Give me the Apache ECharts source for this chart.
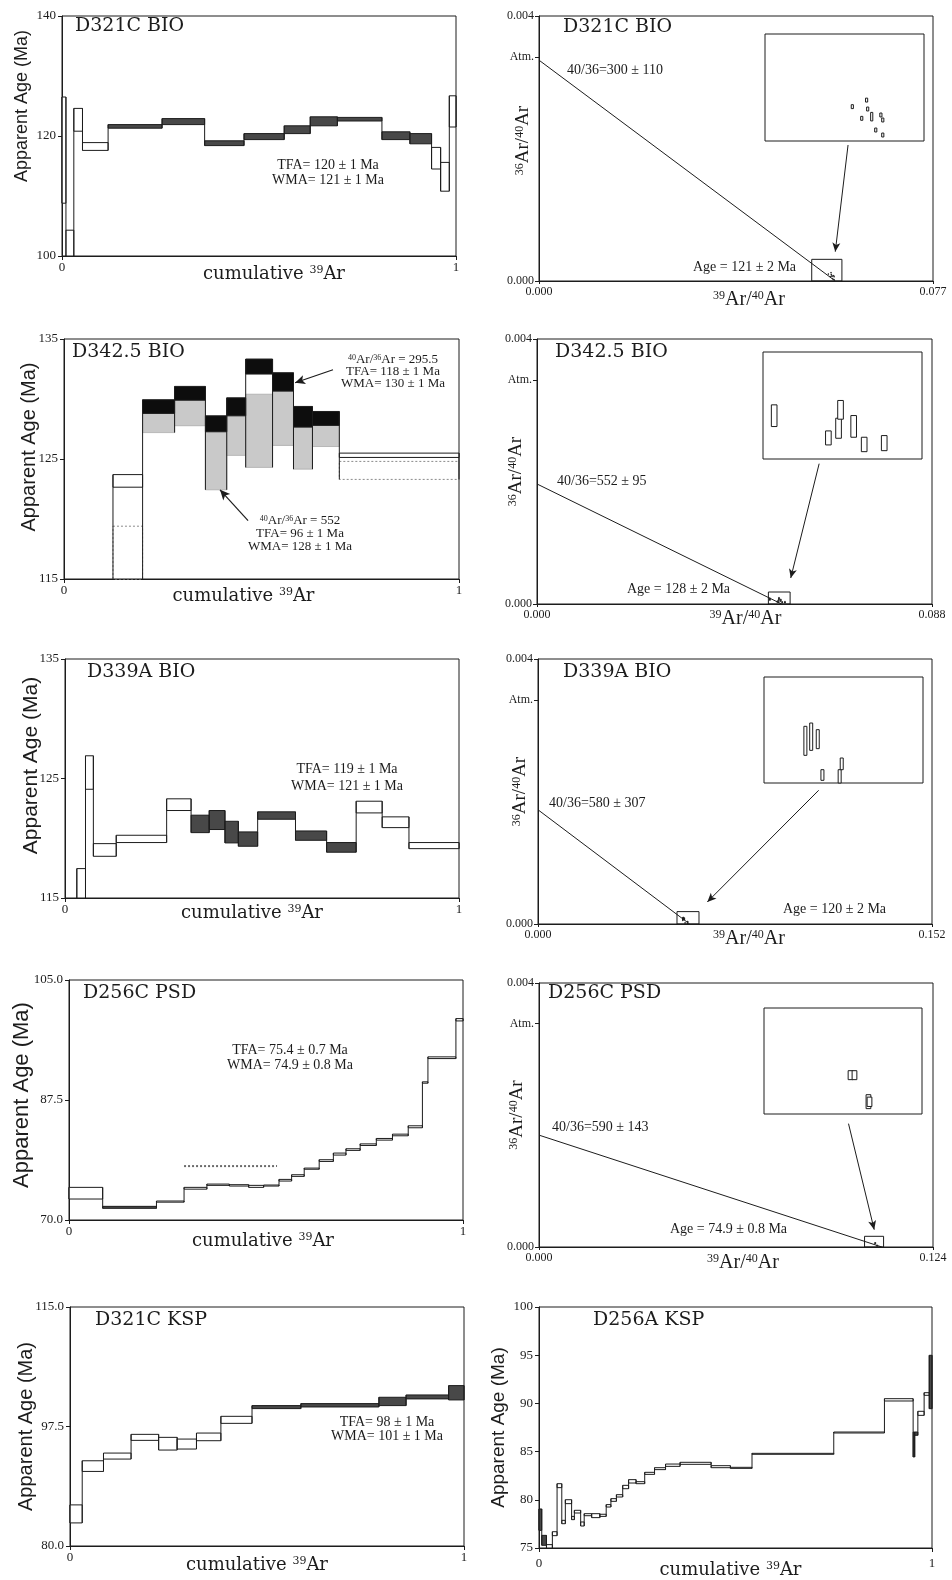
<!DOCTYPE html>
<html><head><meta charset="utf-8">
<script src="https://cdn.jsdelivr.net/npm/echarts@6/dist/echarts.min.js"></script>
<style>html,body{margin:0;padding:0;background:#fff}#c{width:952px;height:1580px}</style>
</head><body><div id="c"></div>
<script>
// ================= DATA =================
// Step-heating spectra: step edges (cumulative 39Ar), lower / upper age bounds (Ma)
const d321cBioEdges = [0, 0.01, 0.03, 0.052, 0.117, 0.254, 0.362, 0.462, 0.564, 0.630, 0.699, 0.812, 0.883, 0.938, 0.961, 0.983, 1];
const d321cBioLo = [108.8, 99, 120.8, 117.6, 121.3, 121.9, 118.4, 119.4, 120.4, 121.7, 122.5, 119.4, 118.7, 114.5, 110.8, 121.5];
const d321cBioHi = [126.5, 104.3, 124.6, 118.9, 121.9, 122.9, 119.2, 120.4, 121.7, 123.2, 123.1, 120.7, 120.4, 118.1, 115.6, 126.7];
const d321cBioPlateau = [4, 5, 6, 7, 8, 9, 10, 11, 12];

const d342Edges = [0.124, 0.199, 0.280, 0.358, 0.412, 0.460, 0.528, 0.581, 0.629, 0.697, 1];
// corrected with 40Ar/36Ar = 295.5
const d342AtmLo = [122.65, 128.8, 129.9, 127.27, 128.6, 132.08, 130.66, 127.66, 127.8, 125.13];
const d342AtmHi = [123.7, 129.94, 131.05, 128.6, 130.1, 133.33, 132.19, 129.38, 128.96, 125.49];
// corrected with 40Ar/36Ar = 552
const d342IsoLo = [113, 127.2, 127.77, 122.43, 125.3, 124.3, 126.13, 124.15, 126.04, 123.3];
const d342IsoHi = [119.4, 128.8, 129.9, 127.27, 128.6, 130.4, 130.66, 127.66, 127.8, 124.8];
const d342Plateau = [1, 2, 3, 4, 5, 6, 7, 8];

const d339Edges = [0.030, 0.052, 0.072, 0.130, 0.258, 0.320, 0.366, 0.406, 0.440, 0.489, 0.585, 0.664, 0.739, 0.805, 0.873, 1];
const d339Lo = [114, 124.1, 118.49, 119.64, 122.32, 120.47, 120.73, 119.61, 119.33, 121.59, 119.83, 118.83, 122.12, 120.89, 119.13];
const d339Hi = [117.46, 126.9, 119.55, 120.25, 123.3, 121.93, 122.32, 121.42, 120.53, 122.21, 120.61, 119.64, 123.1, 121.79, 119.64];
const d339Plateau = [5, 6, 7, 8, 9, 10, 11];

const d256cEdges = [0, 0.0855, 0.222, 0.292, 0.350, 0.407, 0.456, 0.494, 0.533, 0.565, 0.597, 0.635, 0.671, 0.703, 0.739, 0.780, 0.821, 0.861, 0.897, 0.911, 0.982, 1];
const d256cLo = [73.06, 71.7, 72.6, 74.5, 75.05, 74.95, 74.76, 74.95, 75.68, 76.36, 77.4, 78.54, 79.47, 80.15, 80.87, 81.65, 82.28, 83.45, 89.95, 93.54, 99.03];
const d256cHi = [74.76, 71.99, 72.77, 74.76, 75.24, 75.15, 75.05, 75.1, 75.92, 76.6, 77.57, 78.79, 79.76, 80.39, 81.1, 81.89, 82.52, 83.74, 90.15, 93.79, 99.37];
const d256cPlateau = [1];
const d256cRefLine = [0.292, 0.528, 77.86];

const d321cKspEdges = [0, 0.031, 0.085, 0.155, 0.225, 0.272, 0.321, 0.383, 0.462, 0.586, 0.784, 0.853, 0.961, 1];
const d321cKspLo = [83.38, 90.92, 92.73, 95.47, 94.05, 94.2, 95.42, 97.96, 100.12, 100.36, 100.56, 101.54, 101.39];
const d321cKspHi = [86.02, 92.48, 93.61, 96.35, 95.91, 95.66, 96.54, 98.99, 100.56, 100.85, 101.78, 102.12, 103.49];
const d321cKspPlateau = [8, 9, 10, 11, 12];

const d256aEdges = [0, 0.007, 0.019, 0.034, 0.046, 0.058, 0.067, 0.083, 0.090, 0.106, 0.115, 0.134, 0.155, 0.171, 0.183, 0.197, 0.213, 0.228, 0.247, 0.269, 0.294, 0.322, 0.359, 0.438, 0.487, 0.542, 0.750, 0.879, 0.952, 0.956, 0.964, 0.980, 0.993, 1];
const d256aLo = [76.83, 75.28, 74.8, 76.28, 81.26, 77.52, 79.6, 77.94, 78.63, 77.28, 78.35, 78.15, 78.28, 79.25, 79.84, 80.29, 81.15, 81.74, 81.67, 82.64, 83.13, 83.47, 83.68, 83.33, 83.26, 84.72, 86.93, 90.25, 84.44, 86.69, 88.76, 90.84, 89.45];
const d256aHi = [79.05, 76.31, 75.35, 76.69, 81.67, 77.87, 80.01, 78.28, 78.91, 77.7, 78.56, 78.56, 78.5, 79.5, 80.12, 80.53, 81.5, 82.09, 81.88, 82.85, 83.33, 83.71, 83.89, 83.54, 83.37, 84.82, 87.03, 90.49, 87.03, 87.03, 89.18, 91.11, 94.99];
const d256aPlateau = [0, 1, 28, 29, 32];

// Isochrons: 40/36 intercept, 39/40 intercept, axis max, zoom box [x0,x1,y0,y1], points, arrow
const ATM = 1 / 295.5;
const iso1Ratio = 300, iso1XInt = 0.0579, iso1XMax = 0.077;
const iso1Box = [0.0533, 0.0592, 0, 0.000327];
const iso1PtX = [0.05654, 0.05707, 0.05711, 0.05689, 0.05726, 0.05760, 0.05767, 0.05741, 0.05767];
const iso1PtLo = [0.000099, 0.000119, 0.0000918, 0.0000633, 0.0000614, 0.0000735, 0.0000582, 0.0000276, 0.0000123];
const iso1PtHi = [0.000111, 0.000131, 0.0001038, 0.0000753, 0.0000874, 0.0000855, 0.0000702, 0.0000396, 0.0000243];
const iso1XErr = 0.00004;
const iso1Arrow = [[0.0604, 0.002053], [0.0579, 0.000443]];

const iso2Ratio = 552, iso2XInt = 0.0545, iso2XMax = 0.088;
const iso2Box = [0.05155, 0.05639, 0, 0.000181];
const iso2PtX = [0.05189, 0.05354, 0.05385, 0.05391, 0.05431, 0.05463, 0.05524];
const iso2PtLo = [0.0000549, 0.0000238, 0.0000351, 0.0000673, 0.0000368, 0.0000124, 0.0000141];
const iso2PtHi = [0.0000916, 0.0000475, 0.000069, 0.000099, 0.0000735, 0.0000368, 0.0000396];
const iso2XErr = 0.000086;
const iso2Arrow = [[0.06286, 0.002118], [0.05653, 0.000392]];

const iso3Ratio = 580, iso3XInt = 0.0585, iso3XMax = 0.152;
const iso3Box = [0.05362, 0.06211, 0, 0.000187];
const iso3PtX = [0.05583, 0.05614, 0.05649, 0.05674, 0.05766, 0.05777];
const iso3PtLo = [0.0000488, 0.0000576, 0.0000606, 0.0000047, 0.0, 0.0000235];
const iso3PtHi = [0.0001, 0.0001058, 0.0000941, 0.0000235, 0.0000235, 0.0000441];
const iso3XErr = 0.00008;
const iso3Arrow = [[0.10828, 0.002018], [0.06533, 0.000333]];

const iso4Ratio = 590, iso4XInt = 0.1079, iso4XMax = 0.124;
const iso4Box = [0.10246, 0.10845, 0, 0.000162];
const iso4PtX = [0.10574, 0.10589, 0.10642, 0.10646];
const iso4PtLo = [0.0000525, 0.0000525, 0.0000082, 0.0000115];
const iso4PtHi = [0.0000662, 0.0000662, 0.0000295, 0.0000258];
const iso4XErr = 0.00009;
const iso4Arrow = [[0.09741, 0.001869], [0.1055, 0.000263]];

// D342.5 annotation arrows (data coords)
const d342ArrowAtm = [[0.681, 132.44], [0.585, 131.35]];
const d342ArrowIso = [[0.466, 119.86], [0.395, 122.43]];

// ================= STYLE / HELPERS =================
const INK = '#1c1c1c';
const FT = '"Liberation Serif", "Times New Roman", serif';
const FD = '"DejaVu Serif", serif';
const FS = '"Liberation Sans", Arial, sans-serif';
const STY = {
  0: { fill: '#ffffff', stroke: INK, lw: 1 },
  1: { fill: '#484848', stroke: INK, lw: 1 },
  2: { fill: '#0d0d0d', stroke: INK, lw: 1 },
  3: { fill: '#c9c9c9', stroke: '#9a9a9a', lw: 0.6 },
  4: { fill: 'none', stroke: '#8a8a8a', lw: 1, dash: [2, 2] }
};

function steps(edges, lo, hi, plateau, onKind, offKind) {
  return lo.map((l, i) => [edges[i], edges[i + 1], l, hi[i], plateau.indexOf(i) >= 0 ? onKind : offKind]);
}
function connectorData(lists) {
  const m = new Map();
  lists.forEach(L => L.forEach(s => {
    [s[0], s[1]].forEach(x => {
      const k = x.toFixed(5);
      const e = m.get(k) || [x, Infinity, -Infinity];
      e[1] = Math.min(e[1], s[2]); e[2] = Math.max(e[2], s[3]);
      m.set(k, e);
    });
  }));
  return Array.from(m.values());
}
function boxSeries(ai, data, yMin, yMax, z) {
  return {
    type: 'custom', xAxisIndex: ai, yAxisIndex: ai, data: data, z: z || 2, silent: true, animation: false,
    renderItem: function (params, api) {
      const d = data[params.dataIndex];
      const lo = Math.max(d[2], yMin), hi = Math.min(d[3], yMax);
      if (hi <= lo) return null;
      const a = api.coord([d[0], hi]), b = api.coord([d[1], lo]);
      const st = STY[d[4]];
      return { type: 'rect', shape: { x: a[0], y: a[1], width: b[0] - a[0], height: Math.max(b[1] - a[1], 0.6) },
        style: { fill: st.fill, stroke: st.stroke, lineWidth: st.lw, lineDash: st.dash || null } };
    }
  };
}
function connSeries(ai, data, yMin, yMax) {
  return {
    type: 'custom', xAxisIndex: ai, yAxisIndex: ai, data: data, z: 3, silent: true, animation: false,
    renderItem: function (params, api) {
      const d = data[params.dataIndex];
      const lo = Math.max(d[1], yMin), hi = Math.min(d[2], yMax);
      if (hi <= lo) return null;
      const a = api.coord([d[0], lo]), b = api.coord([d[0], hi]);
      return { type: 'line', shape: { x1: a[0], y1: a[1], x2: b[0], y2: b[1] }, style: { stroke: INK, lineWidth: 1 } };
    }
  };
}
function pad(shift) { return shift >= 0 ? [0, 0, 0, 2 * shift] : [0, -2 * shift, 0, 0]; }
function rich(size, fam) {
  return { n: { fontFamily: fam, fontSize: size, color: INK }, s: { fontFamily: fam, fontSize: Math.round(size * 0.62), color: INK, verticalAlign: 'top' } };
}
function specX(ai, gap, shift, lblMargin) {
  return { gridIndex: ai, type: 'value', min: 0, max: 1,
    axisLine: { show: true, lineStyle: { color: INK } },
    axisTick: { show: true, customValues: [0, 1], length: 4, lineStyle: { color: INK } },
    axisLabel: { customValues: [0, 1], formatter: v => String(v), fontFamily: FT, fontSize: 13, color: INK, margin: lblMargin || 6 },
    splitLine: { show: false },
    name: '{n|cumulative }{s|39}{n|Ar}', nameLocation: 'middle', nameGap: gap, nameMoveOverlap: false,
    nameTextStyle: { rich: rich(18, FD), padding: pad(shift) } };
}
function specY(ai, min, max, ticks, dec, size, gap, shift) {
  return { gridIndex: ai, type: 'value', min: min, max: max,
    axisLine: { show: true, lineStyle: { color: INK } },
    axisTick: { show: true, customValues: ticks, length: 4, lineStyle: { color: INK } },
    axisLabel: { customValues: ticks, formatter: v => v.toFixed(dec), fontFamily: FT, fontSize: 13, color: INK, margin: 6 },
    splitLine: { show: false },
    name: 'Apparent Age (Ma)', nameLocation: 'middle', nameGap: gap, nameMoveOverlap: false,
    nameTextStyle: { fontFamily: FS, fontSize: size, color: INK, padding: pad(shift) } };
}
function isoX(ai, xmax, gap, shift) {
  return { gridIndex: ai, type: 'value', min: 0, max: xmax,
    axisLine: { show: true, lineStyle: { color: INK } },
    axisTick: { show: true, customValues: [0, xmax], length: 3, lineStyle: { color: INK } },
    axisLabel: { customValues: [0, xmax], formatter: v => v.toFixed(3), fontFamily: FT, fontSize: 12, color: INK, margin: 5 },
    splitLine: { show: false },
    name: '{s|39}{n|Ar/}{s|40}{n|Ar}', nameLocation: 'middle', nameGap: gap, nameMoveOverlap: false,
    nameTextStyle: { rich: rich(20, FT), padding: pad(shift) } };
}
function isoY(ai, gap, shift) {
  const vals = [0, ATM, 0.004];
  return { gridIndex: ai, type: 'value', min: 0, max: 0.004,
    axisLine: { show: true, lineStyle: { color: INK } },
    axisTick: { show: true, customValues: vals, length: 4, lineStyle: { color: INK } },
    axisLabel: { customValues: vals, formatter: v => Math.abs(v - ATM) < 1e-9 ? 'Atm.' : v.toFixed(3), fontFamily: FT, fontSize: 12, color: INK, margin: 5 },
    splitLine: { show: false },
    name: '{s|36}{n|Ar/}{s|40}{n|Ar}', nameLocation: 'middle', nameGap: gap, nameMoveOverlap: false,
    nameTextStyle: { rich: rich(19, FT), padding: pad(shift) } };
}
function hiddenAxis(ai, min, max) {
  return { gridIndex: ai, type: 'value', min: min, max: max, show: false, splitLine: { show: false } };
}
function pts(xs, lo, hi, xe) { return xs.map((x, i) => [x - xe, x + xe, lo[i], hi[i], 0]); }
function isoSeries(ai, inset, ratio, xint, box, ptData, arrow) {
  return [
    { type: 'line', xAxisIndex: ai, yAxisIndex: ai, data: [[0, 1 / ratio], [xint, 0]], symbol: 'none', silent: true, animation: false,
      lineStyle: { color: INK, width: 1 },
      markLine: { silent: true, animation: false, symbol: ['none', 'arrow'], symbolSize: [6, 9], label: { show: false },
        lineStyle: { color: INK, width: 1, type: 'solid' }, data: [[{ coord: arrow[0] }, { coord: arrow[1] }]] },
      markArea: { silent: true, animation: false, label: { show: false },
        itemStyle: { color: 'rgba(0,0,0,0)', borderColor: INK, borderWidth: 1 },
        data: [[{ coord: [box[0], box[2]] }, { coord: [box[1], box[3]] }]] } },
    boxSeries(ai, ptData, 0, 0.004, 4),
    boxSeries(inset, ptData, box[2], box[3], 4)
  ];
}

// ================= LAYOUT =================
const grids = [
  [62, 16, 394, 240], [539, 16, 394, 265],
  [64, 339, 395, 240], [537, 339, 395, 265],
  [65, 659, 394, 239], [538, 659, 394, 265],
  [69, 980, 394, 240], [539, 983, 394, 264],
  [70, 1307, 394, 239], [539, 1307, 393, 241],
  [765, 34, 159, 107], [763, 352, 159, 107], [764, 677, 159, 106], [764, 1008, 158, 106]
].map(g => ({ left: g[0], top: g[1], width: g[2], height: g[3], show: true, borderColor: INK, borderWidth: 1,
  backgroundColor: 'rgba(0,0,0,0)', containLabel: false, outerBoundsMode: 'none' }));

const xAxes = [
  specX(0, 9, 15, 5), isoX(1, iso1XMax, 9, 13),
  specX(2, 8, -18, 5), isoX(3, iso2XMax, 5, 11),
  specX(4, 6, -10, 5), isoX(5, iso3XMax, 5, 14),
  specX(6, 12, -3, 5), isoX(7, iso4XMax, 6, 7),
  specX(8, 10, -10, 5), specX(9, 13, -5, 9),
  hiddenAxis(10, iso1Box[0], iso1Box[1]), hiddenAxis(11, iso2Box[0], iso2Box[1]),
  hiddenAxis(12, iso3Box[0], iso3Box[1]), hiddenAxis(13, iso4Box[0], iso4Box[1])
];
const yAxes = [
  specY(0, 100, 140, [100, 120, 140], 0, 18, 31, 30), isoY(1, 6, 8),
  specY(2, 115, 135, [115, 125, 135], 0, 20, 25, 12), isoY(3, 11, 0),
  specY(4, 115, 135, [115, 125, 135], 0, 21, 23, 13), isoY(5, 8, 0),
  specY(6, 70, 105, [70, 87.5, 105], 1, 22, 36, 5), isoY(7, 12, 0),
  specY(8, 80, 115, [80, 97.5, 115], 1, 20, 34, 0), specY(9, 75, 100, [75, 80, 85, 90, 95, 100], 0, 19, 31, 0),
  hiddenAxis(10, iso1Box[2], iso1Box[3]), hiddenAxis(11, iso2Box[2], iso2Box[3]),
  hiddenAxis(12, iso3Box[2], iso3Box[3]), hiddenAxis(13, iso4Box[2], iso4Box[3])
];

// ================= SERIES =================
const s1 = steps(d321cBioEdges, d321cBioLo, d321cBioHi, d321cBioPlateau, 1, 0);
const s3a = steps(d342Edges, d342AtmLo, d342AtmHi, d342Plateau, 2, 0);
const s3b = steps(d342Edges, d342IsoLo, d342IsoHi, d342Plateau, 3, 4);
const s5 = steps(d339Edges, d339Lo, d339Hi, d339Plateau, 1, 0);
const s7 = steps(d256cEdges, d256cLo, d256cHi, d256cPlateau, 1, 0);
const s9 = steps(d321cKspEdges, d321cKspLo, d321cKspHi, d321cKspPlateau, 1, 0);
const s10 = steps(d256aEdges, d256aLo, d256aHi, d256aPlateau, 1, 0);

const series = [
  boxSeries(0, s1, 100, 140), connSeries(0, connectorData([s1]), 100, 140),
  boxSeries(2, s3b, 115, 135, 1), boxSeries(2, s3a, 115, 135, 2), connSeries(2, connectorData([s3a, s3b]), 115, 135),
  { type: 'line', xAxisIndex: 2, yAxisIndex: 2, data: [], silent: true, animation: false,
    markLine: { silent: true, animation: false, symbol: ['none', 'arrow'], symbolSize: [7, 10], label: { show: false },
      lineStyle: { color: INK, width: 1.2, type: 'solid' },
      data: [[{ coord: d342ArrowAtm[0] }, { coord: d342ArrowAtm[1] }], [{ coord: d342ArrowIso[0] }, { coord: d342ArrowIso[1] }]] } },
  boxSeries(4, s5, 115, 135), connSeries(4, connectorData([s5]), 115, 135),
  boxSeries(6, s7, 70, 105), connSeries(6, connectorData([s7]), 70, 105),
  { type: 'line', xAxisIndex: 6, yAxisIndex: 6, data: [[d256cRefLine[0], d256cRefLine[2]], [d256cRefLine[1], d256cRefLine[2]]],
    symbol: 'none', silent: true, animation: false, lineStyle: { color: '#6a6a6a', width: 2, type: 'dotted' } },
  boxSeries(8, s9, 80, 115), connSeries(8, connectorData([s9]), 80, 115),
  boxSeries(9, s10, 75, 100), connSeries(9, connectorData([s10]), 75, 100)
].concat(
  isoSeries(1, 10, iso1Ratio, iso1XInt, iso1Box, pts(iso1PtX, iso1PtLo, iso1PtHi, iso1XErr), iso1Arrow),
  isoSeries(3, 11, iso2Ratio, iso2XInt, iso2Box, pts(iso2PtX, iso2PtLo, iso2PtHi, iso2XErr), iso2Arrow),
  isoSeries(5, 12, iso3Ratio, iso3XInt, iso3Box, pts(iso3PtX, iso3PtLo, iso3PtHi, iso3XErr), iso3Arrow),
  isoSeries(7, 13, iso4Ratio, iso4XInt, iso4Box, pts(iso4PtX, iso4PtLo, iso4PtHi, iso4XErr), iso4Arrow)
);

// ================= TEXT =================
function title(t, x, y) {
  return { type: 'text', x: x, y: y, silent: true, z: 10,
    style: { text: t, font: '19px "DejaVu Serif", serif', fill: INK, textAlign: 'left', textVerticalAlign: 'top' } };
}
function note(t, x, y, align, size, lh) {
  return { type: 'text', x: x, y: y, silent: true, z: 10,
    style: { text: t, font: (size || 14) + 'px "Liberation Serif", serif', fill: INK, textAlign: align || 'center',
      textVerticalAlign: 'middle', textLineHeight: lh || 15 } };
}
function richNote(t, x, y, size, lh) {
  const r = { n: { fontFamily: FT, fontSize: size, lineHeight: lh }, s: { fontFamily: FT, fontSize: Math.round(size * 0.62), verticalAlign: 'top', lineHeight: lh } };
  return { type: 'text', x: x, y: y, silent: true, z: 10,
    style: { text: t, rich: r, fill: INK, textAlign: 'center', textVerticalAlign: 'middle' } };
}
const graphics = [
  title('D321C BIO', 75, 17), title('D321C BIO', 563, 18),
  title('D342.5 BIO', 72, 343), title('D342.5 BIO', 555, 343),
  title('D339A BIO', 87, 663), title('D339A BIO', 563, 663),
  title('D256C PSD', 83, 984), title('D256C PSD', 548, 984),
  title('D321C KSP', 95, 1311), title('D256A KSP', 593, 1311),
  note('TFA= 120 ± 1 Ma\nWMA= 121 ± 1 Ma', 328, 172.5, 'center', 14, 15),
  note('TFA= 119 ± 1 Ma\nWMA= 121 ± 1 Ma', 347, 777.5, 'center', 14, 17),
  note('TFA= 75.4 ± 0.7 Ma\nWMA= 74.9 ± 0.8 Ma', 290, 1057.5, 'center', 14, 15),
  note('TFA= 98 ± 1 Ma\nWMA= 101 ± 1 Ma', 387, 1429, 'center', 14, 14),
  richNote('{s|40}{n|Ar/}{s|36}{n|Ar = 295.5}\n{n|TFA= 118 ± 1 Ma}\n{n|WMA= 130 ± 1 Ma}', 393, 372, 13, 12),
  richNote('{s|40}{n|Ar/}{s|36}{n|Ar = 552}\n{n|TFA= 96 ± 1 Ma}\n{n|WMA= 128 ± 1 Ma}', 300, 534, 13, 13),
  note('40/36=300 ± 110', 567, 70, 'left'), note('Age = 121 ± 2 Ma', 693, 267, 'left'),
  note('40/36=552 ± 95', 557, 481, 'left'), note('Age = 128 ± 2 Ma', 627, 589, 'left'),
  note('40/36=580 ± 307', 549, 803, 'left'), note('Age = 120 ± 2 Ma', 783, 909, 'left'),
  note('40/36=590 ± 143', 552, 1127, 'left'), note('Age = 74.9 ± 0.8 Ma', 670, 1229, 'left')
];

const chart = echarts.init(document.getElementById('c'), null, { renderer: 'canvas' });
chart.setOption({
  animation: false, backgroundColor: '#ffffff',
  grid: grids, xAxis: xAxes, yAxis: yAxes, series: series, graphic: graphics
});
</script></body></html>
